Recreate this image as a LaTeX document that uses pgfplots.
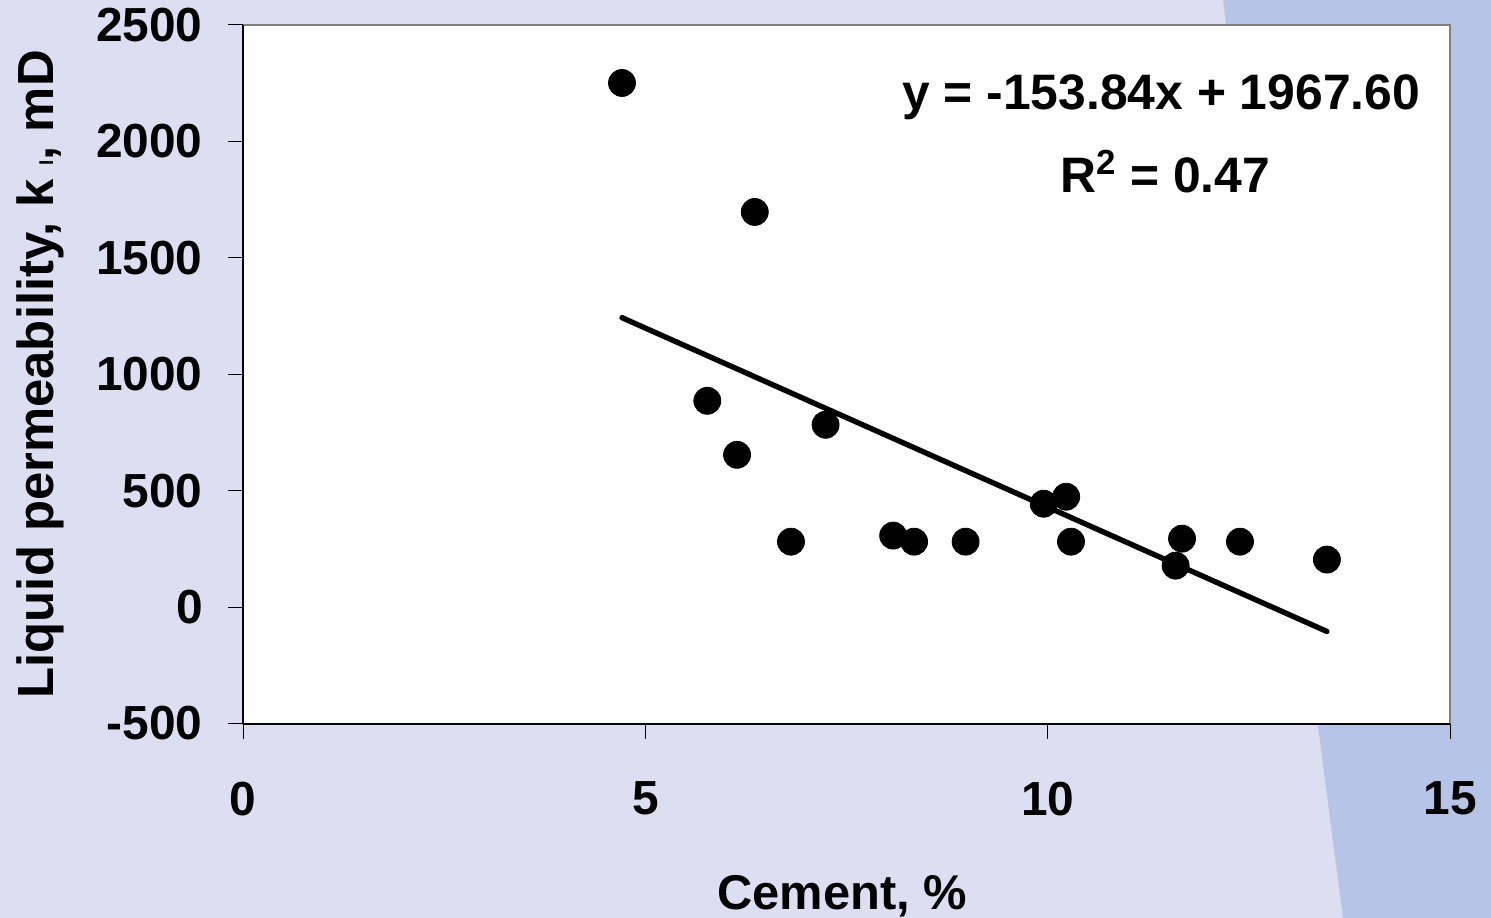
\documentclass[border=0pt]{standalone}
\usepackage{pgfplots}
\pgfplotsset{compat=1.18}
\usepackage{fontspec}
\setmainfont{Liberation Sans}
\definecolor{bglav}{RGB}{220,223,242}
\definecolor{bgblue}{RGB}{182,196,232}
\begin{document}
\begin{tikzpicture}
\useasboundingbox (0,0) rectangle (745.5bp,459bp);
\fill[bglav] (0,0) rectangle (745.5bp,459bp);
\fill[bgblue] (611.5bp,459bp) -- (745.5bp,459bp) -- (745.5bp,0) -- (671.5bp,0) -- cycle;
\begin{axis}[
  at={(121.5bp,97.25bp)}, anchor=south west,
  scale only axis, width=603.5bp, height=349.25bp,
  xmin=0, xmax=15, ymin=-500, ymax=2500,
  xtick={0,5,10,15}, ytick={-500,0,500,1000,1500,2000,2500},
  axis x line*=bottom, axis y line*=left,
  axis line style={-, black, line width=1bp},
  axis background/.style={fill=white, draw=gray, line width=1bp},
  tick align=outside, major tick length=7.5bp,
  tick style={black, line width=0.5bp},
  ticklabel style={font=\bfseries\fontsize{24}{24}\selectfont},
  /pgf/number format/assume math mode=true,
  /pgf/number format/1000 sep={},
  xticklabel style={anchor=north, inner sep=0pt, yshift=-21.5bp},
  yticklabel style={anchor=east, inner sep=0pt, xshift=-12.5bp},
  xlabel={Cement, \%},
  ylabel={Liquid permeability, k {\fontsize{9.5}{9.5}\selectfont l}, mD},
  xlabel style={font=\bfseries\fontsize{24.5}{24.5}\selectfont, at={(axis description cs:0.4965,-0.2656)}, anchor=base, inner sep=0pt},
  ylabel style={font=\bfseries\fontsize{25.5}{25.5}\selectfont, at={(axis description cs:-0.1574,0.5)}, anchor=base, rotate=0, inner sep=0pt},
]
\addplot[only marks, mark=*, mark size=6.75bp, black] table {
x y
4.71 2251
6.36 1697
5.77 886
6.14 654
7.24 783
6.81 281
8.08 307
8.34 281
8.98 281
9.95 444
10.23 474
10.29 281
11.67 294
11.59 178
12.39 281
13.47 204
};
\addplot[black, line width=2.7bp, line cap=round] coordinates {(4.71,1243.0) (13.47,-104.6)};
\node[font=\bfseries\fontsize{25}{25}\selectfont] at (axis cs:11.41,2191) {y = -153.84x + 1967.60};
\node[font=\bfseries\fontsize{25}{25}\selectfont] at (axis cs:11.46,1872) {R\textsuperscript{2} = 0.47};
\end{axis}
\end{tikzpicture}
\end{document}
